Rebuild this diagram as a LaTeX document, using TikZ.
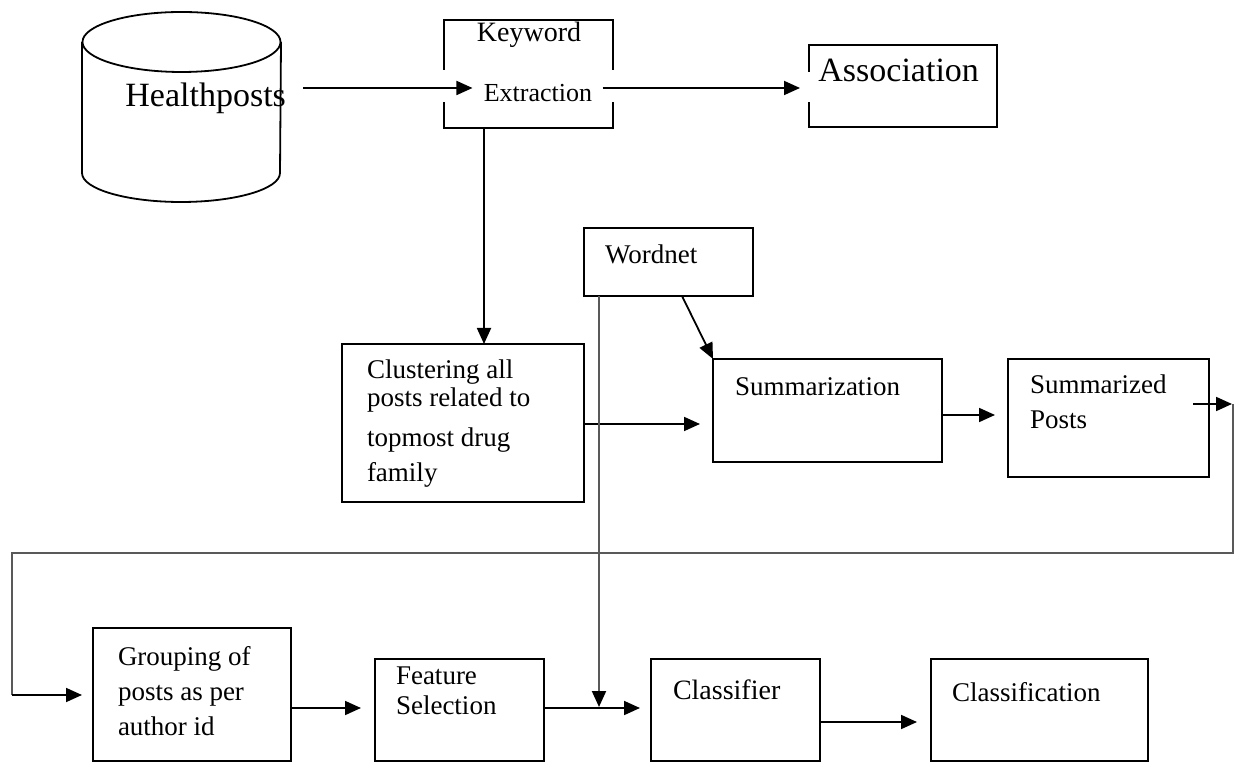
\documentclass[tikz,border=0pt]{standalone}
\usepackage{fontspec}
\setmainfont{Liberation Serif}
\usetikzlibrary{arrows.meta,calc}
\begin{document}
\begin{tikzpicture}[x=0.5pt,y=-0.5pt,
  ln/.style={line width=0.9pt, draw=black},
  gln/.style={line width=1pt, draw=black!65},
  arr/.style={line width=0.9pt, draw=black, -{Triangle[length=8pt,width=7pt]}},
  box/.style={draw, line width=0.9pt, rectangle, inner sep=0pt, outer sep=0pt, anchor=north west},
  frame/.style={rectangle, inner sep=0pt, outer sep=0pt, anchor=north west},
  txt/.style={inner sep=0pt, outer sep=0pt, font=\fontsize{13.5}{14}\selectfont, align=left},
]
\useasboundingbox (0,0) rectangle (1235,763);

% cylinder (Healthposts)
\draw[ln] (181.5,42) ellipse [x radius=49.5pt, y radius=15pt];
\draw[ln] (82,42) -- (82,173) arc[start angle=180, end angle=360, x radius=49.5pt, y radius=14.5pt] -- (281,42);
\node[inner sep=0pt, anchor=west, font=\fontsize{17}{20}\selectfont] (hp) at (125,98) {Healthposts};

% Keyword Extraction (box with gaps in its sides)
\node[frame, minimum width=84.5pt, minimum height=54pt] (kw) at (444,20) {};
\draw[ln] (kw.west |- 0,70) -- (kw.north west) -- (kw.north east) -- (kw.east |- 0,70);
\draw[ln] (kw.west |- 0,102) -- (kw.south west) -- (kw.south east) -- (kw.east |- 0,102);
\node[inner sep=0pt, font=\fontsize{14}{16}\selectfont] (kwt) at (529,35) {Keyword};
\node[inner sep=0pt, font=\fontsize{13}{15}\selectfont] (ext) at (538,93) {Extraction};

% Association
\node[frame, minimum width=94pt, minimum height=41pt] (as) at (809,45) {};
\draw[ln] (as.west |- 0,72) -- (as.north west) -- (as.north east) -- (as.south east) -- (as.south west) -- (as.west |- 0,102);
\node[inner sep=0pt, anchor=west, font=\fontsize{17}{20}\selectfont] (ast) at (818,70) {Association};

% Wordnet
\node[box, minimum width=84.5pt, minimum height=34pt] (wn) at (584,228) {};
\node[txt, anchor=west] (wnt) at (605,254) {Wordnet};

% Clustering (anchor = baseline of last line)
\node[box, minimum width=121pt, minimum height=79pt] (clu) at (342,344) {};
\node[txt, anchor=base west] (clut) at (367,482) {Clustering all\\posts related to\\[6pt]topmost drug\\[3.5pt]family};

% Summarization
\node[box, minimum width=114.5pt, minimum height=51.5pt] (sum) at (713,359) {};
\node[txt, anchor=west] (sumt) at (735,387) {Summarization};

% Summarized Posts
\node[box, minimum width=100.5pt, minimum height=59pt] (sp) at (1008,359) {};
\node[txt, anchor=base west, font=\fontsize{13.5}{17.5}\selectfont] (spt) at (1030,429) {Summarized\\Posts};

% Bottom row
\node[box, minimum width=99pt, minimum height=66.5pt] (gr) at (93,628) {};
\node[txt, anchor=base west, font=\fontsize{13.5}{17.5}\selectfont] (grt) at (118,735) {Grouping of\\posts as per\\author id};

\node[box, minimum width=84.5pt, minimum height=51pt] (fs) at (375,659) {};
\node[txt, anchor=base west, font=\fontsize{13.5}{15}\selectfont] (fst) at (396,714) {Feature\\Selection};

\node[box, minimum width=84.5pt, minimum height=51pt] (cl) at (651,659) {};
\node[txt, anchor=west, font=\fontsize{14}{16}\selectfont] (clt) at (673,690) {Classifier};

\node[box, minimum width=108.5pt, minimum height=51pt] (cn) at (931,659) {};
\node[txt, anchor=west] (cnt) at (952,692) {Classification};

% connectors
\coordinate (hpo) at (303,88);
\draw[arr, shorten >=5.5pt] (hpo) -- (hpo -| ext.west);
\draw[arr, shorten <=5pt, shorten >=4.5pt] (ext.east |- 0,88) -- (as.west |- 0,88);
\draw[arr] (kw.south -| 484,0) -- (clu.north -| 484,0);
\draw[arr, shorten >=6.5pt] (clu.east |- 0,424) -- (sum.west |- 0,424);
\draw[arr, shorten >=6.5pt] (sum.east |- 0,415) -- (sp.west |- 0,415);
\draw[arr] (wn.south -| 682,0) -- (sum.north west);

% feedback loop
\coordinate (spo) at (1193,404);
\coordinate (r1) at (1233,404);
\coordinate (r2) at (1233,553);
\coordinate (l1) at (12,553);
\coordinate (l2) at (12,695);
\draw[arr] (spo) -- ([xshift=-0.5pt]r1);
\draw[gln] (r1) -- (r2) -- (l1) -- (l2);
\draw[arr, shorten >=5.5pt] (l2) -- (l2 -| gr.west);

% bottom row arrows
\draw[arr, shorten >=7pt] (gr.east |- 0,708) -- (fs.west |- 0,708);
\draw[arr, shorten >=5.5pt] (fs.east |- 0,708) -- (cl.west |- 0,708);
\draw[arr, shorten >=7pt] (cl.east |- 0,722) -- (cn.west |- 0,722);

% Wordnet vertical line down to the Feature->Classifier arrow
\coordinate (wj) at (599,707);
\draw[gln, -{Triangle[length=8pt,width=7pt,color=black,fill=black]}] (wn.south -| wj) -- (wj);
\end{tikzpicture}
\end{document}
